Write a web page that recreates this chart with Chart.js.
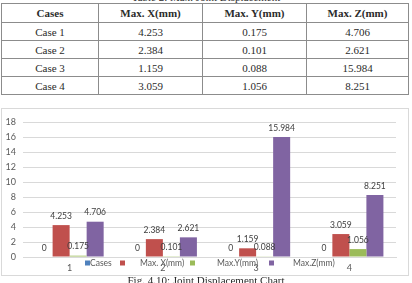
<!DOCTYPE html>
<html lang="en">
  <head>
    <meta charset="UTF-8" />
    <title>Joint Displacement Chart</title>
    <script src="https://cdn.jsdelivr.net/npm/chart.js"></script>
    <style>
      body {
        margin: 0;
        width: 412px;
        height: 283px;
        overflow: hidden;
        background: #fff;
        position: relative;
        font-family: "Liberation Serif", serif;
        color: #2b2b2b;
      }
      .caption {
        position: absolute;
        left: 0;
        width: 412px;
        text-align: center;
        font-size: 11px;
      }
      table {
        position: absolute;
        left: 1px;
        top: 3px;
        width: 408px;
        border-collapse: collapse;
        font-size: 11px;
      }
      td, th {
        border: 1px solid #8c8c8c;
        text-align: center;
        height: 17px;
        padding: 0;
      }
      th { height: 18px; }
      .chart-box {
        position: absolute;
        left: 1px;
        top: 108px;
        width: 406px;
        height: 166px;
        border: 1px solid #d9d9d9;
      }
    </style>
  </head>
  <body>
    <div class="caption" style="top: -9px">Table 2: Max. Joint Displacement</div>
    <table>
      <tr><th style="width:96px">Cases</th><th style="width:103px">Max. X(mm)</th><th style="width:103px">Max. Y(mm)</th><th>Max. Z(mm)</th></tr>
      <tr><td>Case 1</td><td>4.253</td><td>0.175</td><td>4.706</td></tr>
      <tr><td>Case 2</td><td>2.384</td><td>0.101</td><td>2.621</td></tr>
      <tr><td>Case 3</td><td>1.159</td><td>0.088</td><td>15.984</td></tr>
      <tr><td>Case 4</td><td>3.059</td><td>1.056</td><td>8.251</td></tr>
    </table>

    <div class="chart-box">
      <canvas id="dispChart" width="406" height="166"></canvas>
    </div>
    <div class="caption" style="top: 274px">Fig. 4.10: Joint Displacement Chart</div>

    <script>
      // chart data
      var categories = ["1", "2", "3", "4"];
      var seriesNames = ["Cases", "Max. X(mm)", "Max.Y(mm)", "Max.Z(mm)"];
      var casesVals = [0, 0, 0, 0];
      var maxX = [4.253, 2.384, 1.159, 3.059];
      var maxY = [0.175, 0.101, 0.088, 1.056];
      var maxZ = [4.706, 2.621, 15.984, 8.251];
      var yTicks = [0, 2, 4, 6, 8, 10, 12, 14, 16, 18];

      var colors = ["#4f81bd", "#c0504d", "#9bbb59", "#8064a2"];
      var chartFont = "Lato, 'Open Sans', sans-serif";

      // value labels above each bar
      var barLabels = {
        id: "barLabels",
        afterDatasetsDraw: function (chart) {
          var ctx = chart.ctx;
          ctx.save();
          ctx.font = "8.5px " + chartFont;
          ctx.fillStyle = "#404040";
          ctx.textAlign = "center";
          ctx.textBaseline = "middle";
          chart.data.datasets.forEach(function (ds, i) {
            chart.getDatasetMeta(i).data.forEach(function (bar, j) {
              ctx.fillText(String(ds.data[j]), bar.x, bar.y - 9);
            });
          });
          ctx.restore();
        },
      };

      // excel-style legend sitting on top of the axis labels
      var legendSpots = [
        { box: 62, text: 67 },
        { box: 97, text: 117 },
        { box: 167, text: 194 },
        { box: 246, text: 270 },
      ];
      var bottomLegend = {
        id: "bottomLegend",
        afterDraw: function (chart) {
          var ctx = chart.ctx;
          var left = chart.chartArea.left;
          var y = chart.chartArea.bottom + 6;
          ctx.save();
          ctx.font = "8.5px " + chartFont;
          ctx.textBaseline = "middle";
          ctx.textAlign = "left";
          seriesNames.forEach(function (name, i) {
            var spot = legendSpots[i];
            ctx.fillStyle = colors[i];
            ctx.fillRect(left + spot.box, y - 2.5, 5, 5);
            ctx.fillStyle = "#595959";
            ctx.fillText(name, left + spot.text, y);
          });
          ctx.restore();
        },
      };

      var seriesData = [casesVals, maxX, maxY, maxZ];
      var ctx = document.getElementById("dispChart").getContext("2d");
      var dispChart = new Chart(ctx, {
        type: "bar",
        data: {
          labels: categories,
          datasets: seriesNames.map(function (name, i) {
            return {
              label: name,
              data: seriesData[i],
              backgroundColor: colors[i],
              borderWidth: 0,
              categoryPercentage: 0.73,
              barPercentage: 1.0,
            };
          }),
        },
        options: {
          responsive: false,
          animation: false,
          devicePixelRatio: 1,
          layout: { padding: { left: 0, top: 13, right: 12, bottom: 0 } },
          plugins: {
            legend: { display: false },
            tooltip: { enabled: false },
          },
          scales: {
            x: {
              grid: { display: false, drawTicks: false },
              border: { display: true, color: "#d9d9d9" },
              ticks: {
                color: "#595959",
                font: { family: chartFont, size: 9 },
                padding: 6,
                maxRotation: 0,
              },
              afterFit: function (axis) {
                axis.height = 18;
              },
            },
            y: {
              min: 0,
              max: 18,
              afterBuildTicks: function (axis) {
                axis.ticks = yTicks.map(function (v) {
                  return { value: v };
                });
              },
              grid: { color: "#d9d9d9", drawTicks: false },
              border: { display: false },
              ticks: {
                color: "#595959",
                font: { family: chartFont, size: 9 },
                padding: 7,
              },
              afterFit: function (axis) {
                axis.width = 21;
              },
            },
          },
        },
        plugins: [barLabels, bottomLegend],
      });
    </script>
  </body>
</html>
